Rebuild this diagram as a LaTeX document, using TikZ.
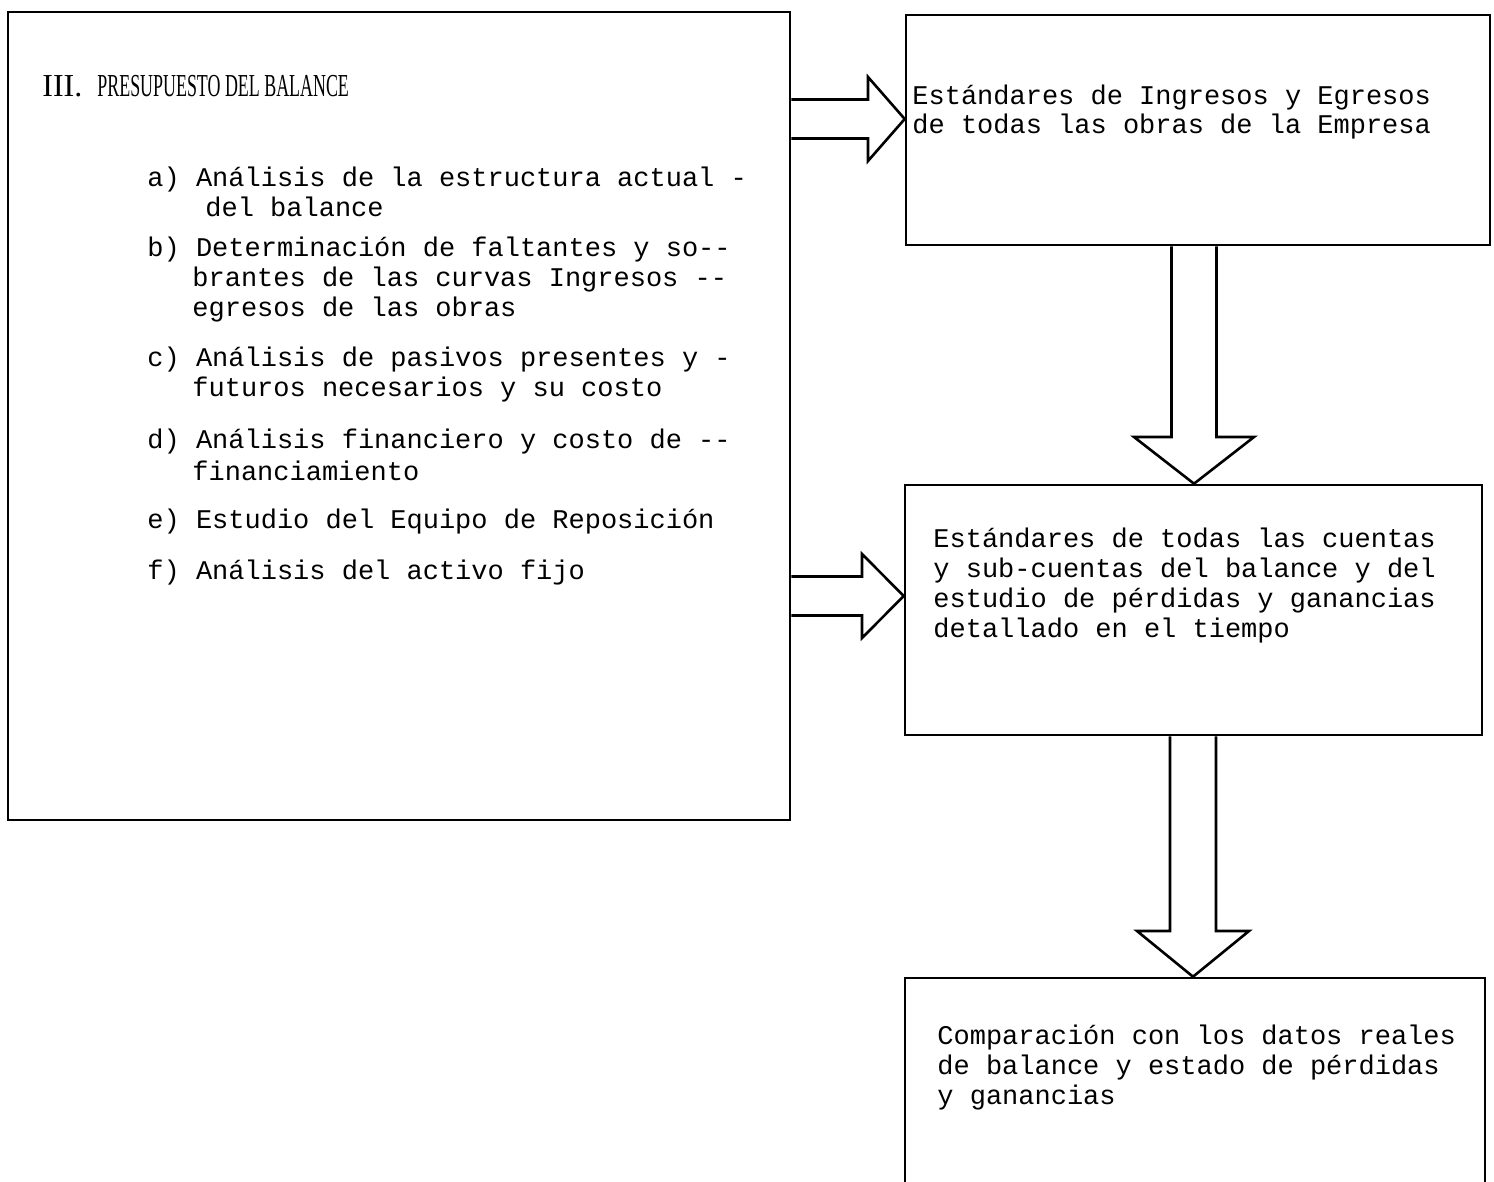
\documentclass[tikz,border=0pt]{standalone}
\usepackage{fontspec}
\newfontfamily\typefont{Liberation Mono}
\newfontfamily\headfont{Liberation Serif}
\usetikzlibrary{calc}
\begin{document}
\begin{tikzpicture}[x=0.5pt,y=-0.5pt,
  panel/.style={draw, line width=1.3pt, inner sep=0pt},
  blockarrow/.style={draw, line width=1.3pt, line join=miter},
  txt/.style={anchor=mid west, inner sep=0pt, font=\typefont\fontsize{13.5}{15}\selectfont},
  headtxt/.style={anchor=mid west, inner sep=0pt, font=\headfont\fontsize{16}{17}\selectfont}]
\useasboundingbox (0,0) rectangle (1494,1182);
\clip (0,0) rectangle (1494,1182);

% boxes
\node[panel, minimum width=391pt, minimum height=404pt] (L) at (399,416) {};
\node[panel, minimum width=292pt, minimum height=115pt] (B1) at (1198,130) {};
\node[panel, minimum width=288.5pt, minimum height=125pt] (B2) at (1193.5,610) {};
\node[panel, minimum width=290pt, minimum height=136pt] (B3) at (1195,1114) {};

% block arrows
\draw[blockarrow] (L.east |- 0,99.5) -- (868,99.5) -- (868,77) -- (B1.west |- 0,119)
  -- (868,161) -- (868,138.5) -- (L.east |- 0,138.5);
\draw[blockarrow] (L.east |- 0,576.5) -- (862,576.5) -- (862,554) -- (B2.west |- 0,596)
  -- (862,638) -- (862,615.5) -- (L.east |- 0,615.5);
\draw[blockarrow] (B1.south -| 1171.5,0) -- (1171.5,437) -- (1134,437) -- (B2.north -| 1194,0)
  -- (1254,437) -- (1216.5,437) -- (B1.south -| 1216.5,0);
\draw[blockarrow] (B2.south -| 1170,0) -- (1170,931) -- (1137,931) -- (B3.north -| 1193,0)
  -- (1249,931) -- (1216,931) -- (B2.south -| 1216,0);

% left panel text
\node[headtxt] (h1) at (42,92) {III.};
\node[headtxt] (h2) at (97,92) {\scalebox{0.56}[1]{PRESUPUESTO DEL BALANCE}};
\node[txt] (a1) at (147,182) {a) Análisis de la estructura actual -};
\node[txt] (a2) at (205,212) {del balance};
\node[txt] (b1) at (147,252) {b) Determinación de faltantes y so-{}-};
\node[txt] (b2) at (192,282) {brantes de las curvas Ingresos -{}-};
\node[txt] (b3) at (192,312) {egresos de las obras};
\node[txt] (c1) at (147,362) {c) Análisis de pasivos presentes y -};
\node[txt] (c2) at (192,392) {futuros necesarios y su costo};
\node[txt] (d1) at (147,444) {d) Análisis financiero y costo de -{}-};
\node[txt] (d2) at (192,476) {financiamiento};
\node[txt] (e1) at (147,524) {e) Estudio del Equipo de Reposición};
\node[txt] (f1) at (147,575) {f) Análisis del activo fijo};

% right boxes text
\node[txt] (t11) at (912,100) {Estándares de Ingresos y Egresos};
\node[txt] (t12) at (912,129) {de todas las obras de la Empresa};
\node[txt] (t21) at (933,543) {Estándares de todas las cuentas};
\node[txt] (t22) at (933,573) {y sub-cuentas del balance y del};
\node[txt] (t23) at (933,603) {estudio de pérdidas y ganancias};
\node[txt] (t24) at (933,633) {detallado en el tiempo};
\node[txt] (t31) at (937,1040) {Comparación con los datos reales};
\node[txt] (t32) at (937,1070) {de balance y estado de pérdidas};
\node[txt] (t33) at (937,1100) {y ganancias};
\end{tikzpicture}
\end{document}
